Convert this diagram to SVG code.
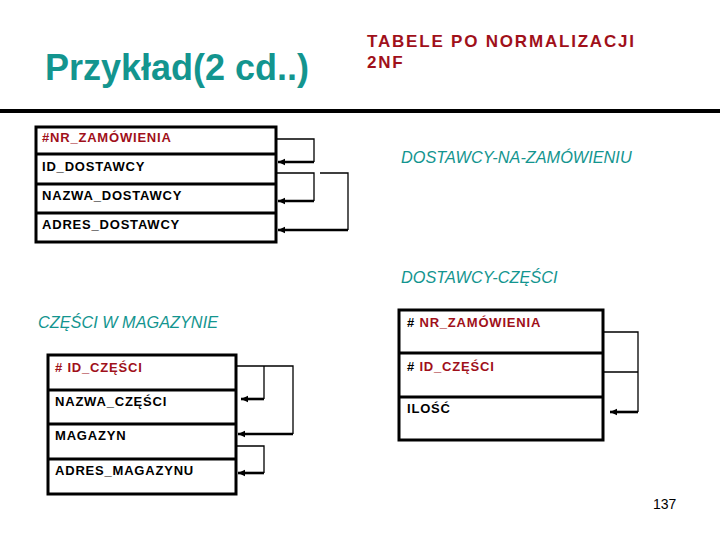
<svg xmlns="http://www.w3.org/2000/svg" width="720" height="540" viewBox="0 0 720 540">
<defs>
<style>
.tbl{fill:none;stroke:#000;stroke-width:3}
.sep{stroke:#000;stroke-width:3}
.f{font-family:"Liberation Sans",Arial,sans-serif;font-weight:bold;font-size:13px;letter-spacing:0.8px;fill:#000}
.r{fill:#A0101A}
.teal{font-family:"Liberation Sans",Arial,sans-serif;font-style:italic;font-size:16.3px;fill:#13958F}
.thin{fill:none;stroke:#000;stroke-width:1.3}
.thick{fill:none;stroke:#000;stroke-width:2.6;marker-end:url(#arr)}
</style>
<marker id="arr" markerUnits="userSpaceOnUse" markerWidth="8" markerHeight="8" refX="7" refY="4" orient="auto">
<path d="M0,0.8 L7,4 L0,7.2 Z" fill="#000"/>
</marker>
</defs>
<rect width="720" height="540" fill="#fff"/>

<g id="header">
<text x="45" y="80" font-family="Liberation Sans,Arial,sans-serif" font-weight="bold" font-size="36" fill="#13958F">Przykład(2 cd..)</text>
<text x="367" y="47" font-family="Liberation Sans,Arial,sans-serif" font-weight="bold" font-size="17" letter-spacing="1.8" fill="#A0101A">TABELE PO NORMALIZACJI</text>
<text x="367" y="68" font-family="Liberation Sans,Arial,sans-serif" font-weight="bold" font-size="17" letter-spacing="1.8" fill="#A0101A">2NF</text>
<rect x="0" y="109" width="720" height="4" fill="#000"/>
</g>

<g id="table-dostawcy-na-zamowieniu">
<rect class="tbl" x="36" y="127" width="240" height="115"/>
<line class="sep" x1="36" y1="154" x2="276" y2="154"/>
<line class="sep" x1="36" y1="184" x2="276" y2="184"/>
<line class="sep" x1="36" y1="213" x2="276" y2="213"/>
<text class="f r" x="42" y="142">#NR_ZAMÓWIENIA</text>
<text class="f" x="42" y="171">ID_DOSTAWCY</text>
<text class="f" x="42" y="200">NAZWA_DOSTAWCY</text>
<text class="f" x="42" y="229">ADRES_DOSTAWCY</text>
</g>

<g id="label-dostawcy-na-zamowieniu">
<text class="teal" x="401" y="163">DOSTAWCY-NA-ZAMÓWIENIU</text>
</g>

<g id="label-dostawcy-czesci">
<text class="teal" x="401" y="283">DOSTAWCY-CZĘŚCI</text>
</g>

<g id="table-czesci-w-magazynie">
<text class="teal" x="38" y="328">CZĘŚCI W MAGAZYNIE</text>
<rect class="tbl" x="48" y="355" width="188" height="139"/>
<line class="sep" x1="48" y1="390" x2="236" y2="390"/>
<line class="sep" x1="48" y1="424" x2="236" y2="424"/>
<line class="sep" x1="48" y1="459" x2="236" y2="459"/>
<text class="f r" x="55" y="372"># ID_CZĘŚCI</text>
<text class="f" x="55" y="406">NAZWA_CZĘŚCI</text>
<text class="f" x="55" y="440">MAGAZYN</text>
<text class="f" x="55" y="475">ADRES_MAGAZYNU</text>
</g>

<g id="table-dostawcy-czesci">
<rect class="tbl" x="399" y="310" width="204" height="130"/>
<line class="sep" x1="399" y1="353" x2="603" y2="353"/>
<line class="sep" x1="399" y1="397" x2="603" y2="397"/>
<text class="f" x="407" y="327"># <tspan class="r">NR_ZAMÓWIENIA</tspan></text>
<text class="f" x="407" y="371"># <tspan class="r">ID_CZĘŚCI</tspan></text>
<text class="f" x="407" y="413">ILOŚĆ</text>
</g>

<g id="connectors">
<path class="thin" d="M276,139 H314 V162"/>
<line class="thick" x1="314" y1="162" x2="278" y2="162"/>
<path class="thin" d="M276,173 H314 V201"/>
<line class="thick" x1="314" y1="201" x2="278" y2="201"/>
<path class="thin" d="M320,173 H348 V230"/>
<line class="thick" x1="348" y1="230" x2="278" y2="230"/>

<path class="thin" d="M236,366 H293 V434"/>
<line class="thick" x1="293" y1="434" x2="238" y2="434"/>
<path class="thin" d="M264,366 V399"/>
<line class="thick" x1="264" y1="399" x2="241" y2="399"/>
<path class="thin" d="M236,446 H264 V473"/>
<line class="thick" x1="264" y1="473" x2="238" y2="473"/>

<path class="thin" d="M603,332 H638 V412 M603,372 H638"/>
<line class="thick" x1="638" y1="412" x2="610" y2="412"/>
</g>

<g id="page-number">
<text x="653" y="509" font-family="Liberation Sans,Arial,sans-serif" font-size="14" fill="#000">137</text>
</g>
</svg>
